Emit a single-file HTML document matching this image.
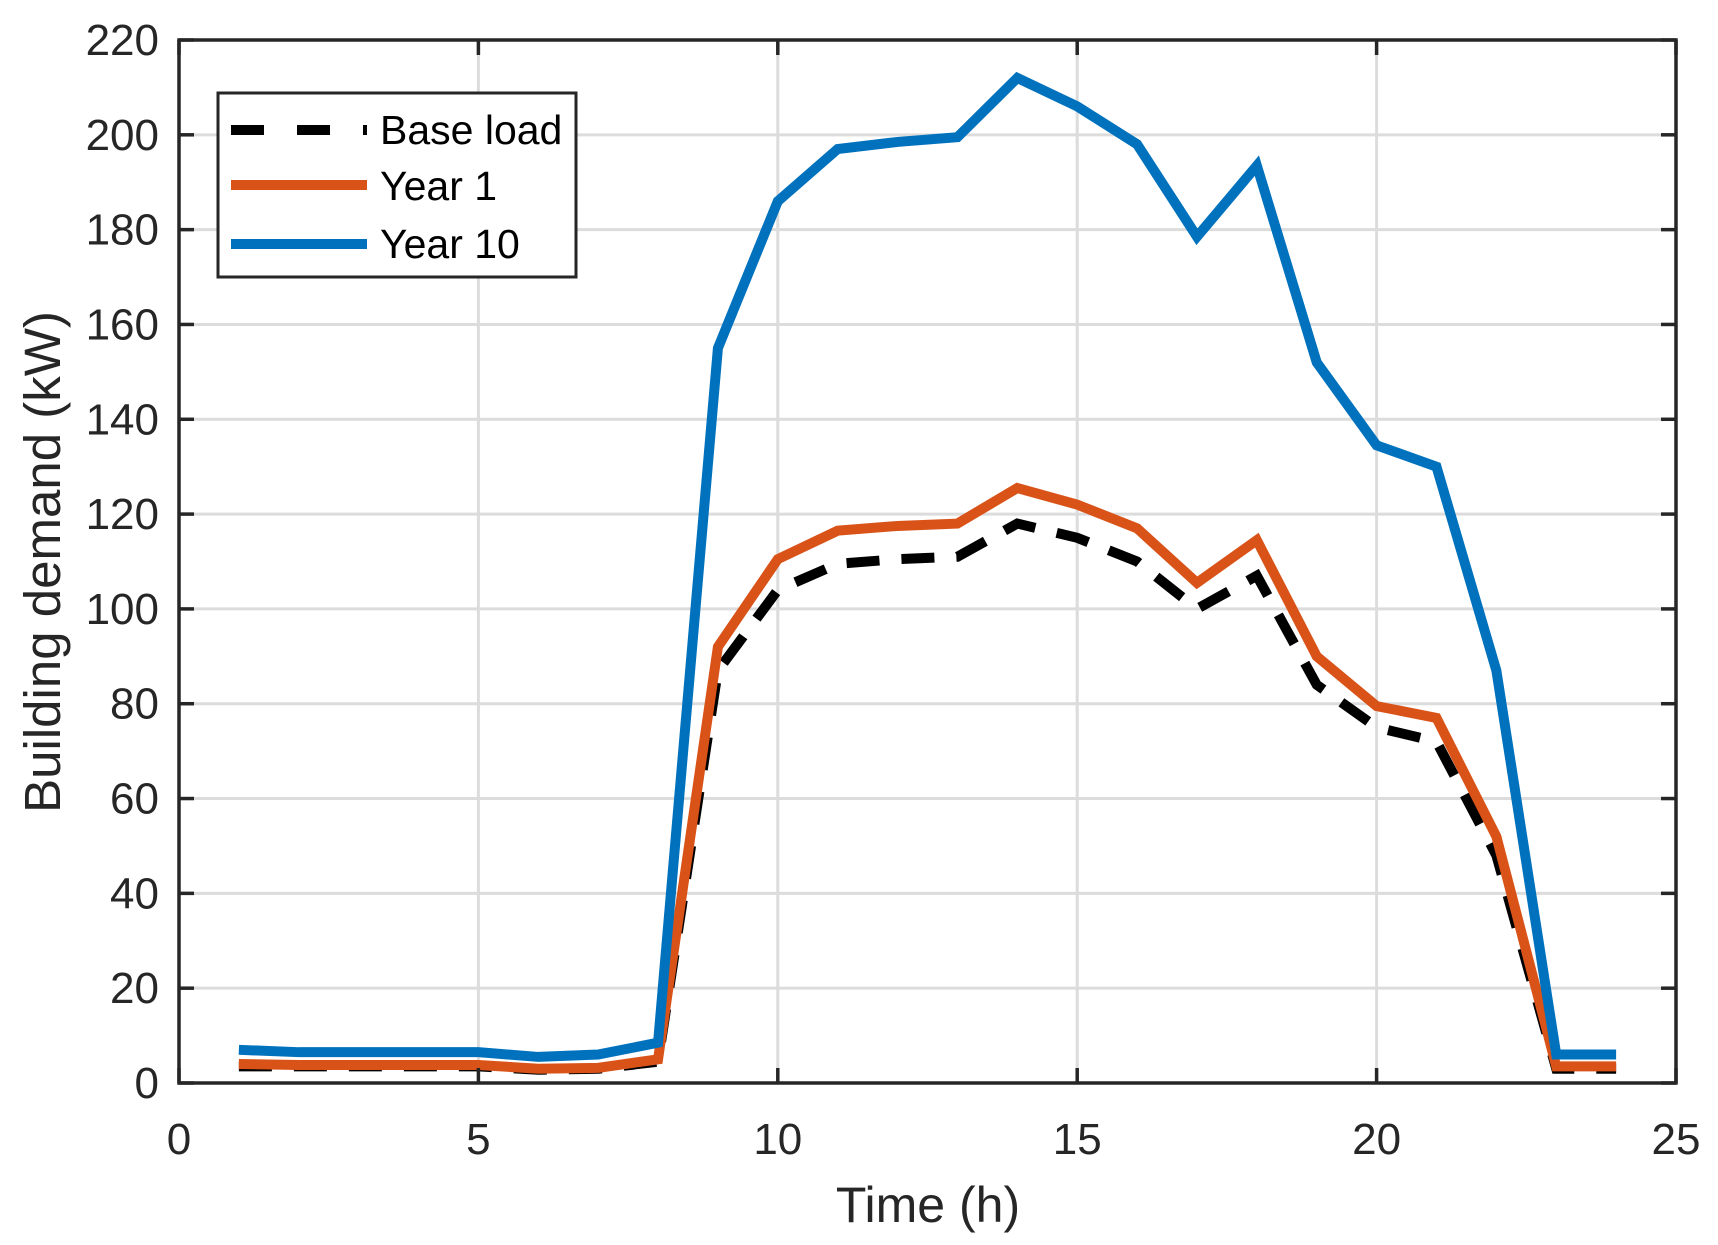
<!DOCTYPE html>
<html><head><meta charset="utf-8">
<style>html,body{margin:0;padding:0;background:#fff;}svg{display:block;font-family:"Liberation Sans",Arial,sans-serif;}</style>
</head><body>
<svg id="chart" width="1718" height="1245" viewBox="0 0 1718 1245" xmlns="http://www.w3.org/2000/svg">
<rect width="1718" height="1245" fill="#fff"/>
<g id="grid"></g>
<g id="series"></g>
<rect x="179" y="40" width="1497" height="1043" fill="none" stroke="#262626" stroke-width="3.5"/>
<g id="ticks"></g>
<text x="928" y="1222" font-size="50" text-anchor="middle" fill="#262626">Time (h)</text>
<text transform="translate(60,562) rotate(-90)" font-size="51" text-anchor="middle" fill="#262626">Building demand (kW)</text>
<g>
<rect x="218" y="93" width="358" height="184" fill="#fff" stroke="#262626" stroke-width="3"/>
<line x1="231" y1="130" x2="367" y2="130" stroke="#000" stroke-width="10" stroke-dasharray="33,33"/>
<text x="380" y="144" font-size="41" fill="#000">Base load</text>
<line x1="231" y1="185" x2="367" y2="185" stroke="#D95319" stroke-width="10"/>
<text x="380" y="200" font-size="41" fill="#000">Year 1</text>
<line x1="231" y1="244" x2="367" y2="244" stroke="#0072BD" stroke-width="10"/>
<text x="380" y="258" font-size="41" fill="#000">Year 10</text>
</g>
</svg>
<script>
const hours = [1,2,3,4,5,6,7,8,9,10,11,12,13,14,15,16,17,18,19,20,21,22,23,24];
const baseLoad = [3.5,3.5,3.5,3.5,3.5,2.8,3,4.5,87,104,109.5,110.5,111,118,115,110,100,107,84,75,72,48,3,3];
const year1 = [4,3.8,3.8,3.8,3.8,3,3.2,5,92,110.5,116.5,117.5,118,125.5,122,117,105.5,114.5,90,79.5,77,52,3.5,3.5];
const year10 = [7,6.5,6.5,6.5,6.5,5.5,6,8.5,155,186,197,198.5,199.5,212,206,198,178.5,193.5,152,134.5,130,87,6,6];
const xTicks = [0,5,10,15,20,25];
const yTicks = [0,20,40,60,80,100,120,140,160,180,200,220];

const L=179,R=1676,T=40,B=1083;
const xs=v=>L+(v-0)/(25-0)*(R-L);
const ys=v=>B-(v-0)/(220-0)*(B-T);
const NS="http://www.w3.org/2000/svg";
function mk(tag,attrs,parent){const e=document.createElementNS(NS,tag);for(const k in attrs)e.setAttribute(k,attrs[k]);parent.appendChild(e);return e;}
const grid=document.getElementById('grid'),ticks=document.getElementById('ticks'),series=document.getElementById('series');
xTicks.forEach(t=>{
  const x=xs(t);
  if(t>0&&t<25){const g=mk('line',{x1:x,y1:T,x2:x,y2:B,stroke:'#dcdcdc','stroke-width':3},grid);
  
  }
  const a=mk('line',{x1:x,y1:B,x2:x,y2:B-15,stroke:'#262626','stroke-width':3.5},ticks);
  
  
  const b=mk('line',{x1:x,y1:T,x2:x,y2:T+15,stroke:'#262626','stroke-width':3.5},ticks);
  
  
  const tx=mk('text',{x:x,y:1154,'font-size':44,'text-anchor':'middle',fill:'#262626'},ticks);
  tx.textContent=t;
  
  
});
yTicks.forEach(t=>{
  const y=ys(t);
  if(t>0&&t<220){const g=mk('line',{x1:L,y1:y,x2:R,y2:y,stroke:'#dcdcdc','stroke-width':3},grid);
  
  }
  const a=mk('line',{x1:L,y1:y,x2:L+15,y2:y,stroke:'#262626','stroke-width':3.5},ticks);
  
  
  const b=mk('line',{x1:R,y1:y,x2:R-15,y2:y,stroke:'#262626','stroke-width':3.5},ticks);
  
  
  const tx=mk('text',{x:159,y:y+15,'font-size':44,'text-anchor':'end',fill:'#262626'},ticks);
  tx.textContent=t;
  
  
});
function line(vals,color,dash,name){
  const pts=hours.map((h,i)=>xs(h)+','+ys(vals[i])).join(' ');
  const attrs={points:pts,fill:'none',stroke:color,'stroke-width':10,'stroke-linejoin':'miter','stroke-miterlimit':3};
  if(dash)attrs['stroke-dasharray']=dash;
  const p=mk('polyline',attrs,series);
  
  
}
line(baseLoad,'#000','33,22','base-load-line');
line(year1,'#D95319',null,'year-1-line');
line(year10,'#0072BD',null,'year-10-line');
</script>
</body></html>
